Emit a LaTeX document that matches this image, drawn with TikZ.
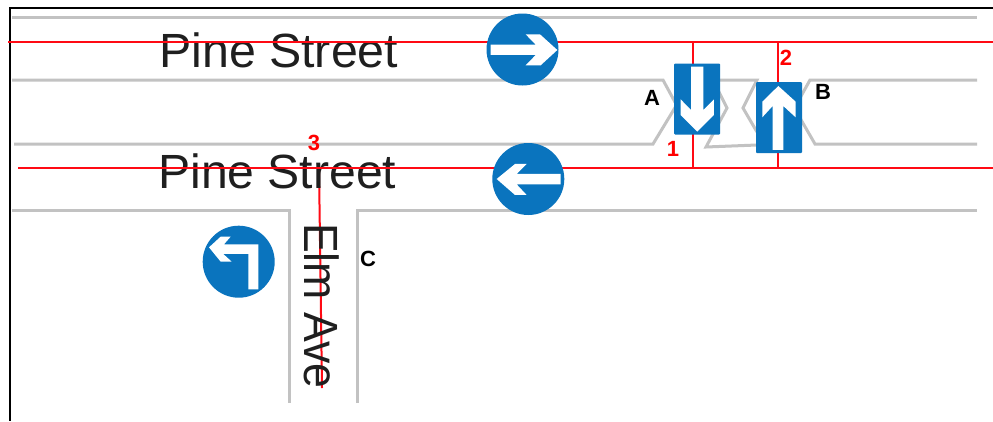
\documentclass[tikz,border=0pt]{standalone}
\usepackage{fontspec}
\usepackage{graphicx}
\setmainfont{Liberation Sans}
\definecolor{roadgrey}{HTML}{C2C2C2}
\definecolor{signblue}{HTML}{0A74BE}
\definecolor{leadred}{HTML}{FF0A14}
\tikzset{
  road/.style={draw=roadgrey,line width=3pt,line join=miter},
  leader/.style={draw=leadred,line width=2pt},
  street/.style={inner sep=0pt,anchor=base west,text=black!88,font=\fontsize{48}{48}\selectfont},
  tag/.style={inner sep=0pt,font=\fontsize{22}{22}\selectfont\bfseries,text=black},
  numtag/.style={tag,text=red},
  roundsign/.style={circle,fill=signblue,inner sep=0pt,minimum size=72pt},
  rectsign/.style={rectangle,rounded corners=1pt,fill=signblue,inner sep=0pt,minimum width=46pt,minimum height=71pt},
  glyph/.style={fill=white,draw=none}
}
\begin{document}
\begin{tikzpicture}[x=1pt,y=-1pt]
\useasboundingbox (0,0) rectangle (993,421);
\fill[white] (0,0) rectangle (993,421);
% frame
\draw[black,line width=2pt] (993,8) -- (10,8) -- (10,421);
% roads
\draw[road] (12,17) -- (977,17);
\draw[road] (12,80) -- (663,80) -- (676,104);
\draw[road] (14,144) -- (653,144) -- (676,106);
\draw[road] (718,80) -- (757,80) -- (743,108) -- (757,132);
\draw[road] (718,90) -- (727,108) -- (706,147) -- (757,145);
\draw[road] (977,80) -- (810,80) -- (800,98);
\draw[road] (977,144) -- (815,144) -- (800,118);
\draw[road] (12,210) -- (289,210) -- (289,403);
\draw[road] (357,403) -- (357,210) -- (977,210);
% anchors of the leaders
\coordinate (topW) at (8,42);
\coordinate (topE) at (993,42);
\coordinate (lowW) at (18,168);
\coordinate (lowE) at (993,168);
\coordinate (aT) at (693,42);
\coordinate (aB) at (693,168);
\coordinate (bT) at (778,42);
\coordinate (bB) at (778,168);
\coordinate (cT) at (319,168);
\coordinate (cB) at (322,388);
\draw[leader] (cT) -- (cB);
% street names
\node[street] (pine1) at (159,67) {\scalebox{1.007}[1]{Pine Street}};
\node[street] (pine2) at (158,188.5) {\scalebox{1.003}[1]{Pine Street}};
\node[street,rotate=-90] (elm) at (304,223) {\scalebox{0.93}[1]{Elm Ave}};
% leaders
\draw[leader] (topW) -- (topE);
\draw[leader] (lowW) -- (lowE);
\draw[leader] (aT) -- (aB);
\draw[leader] (bT) -- (bB);
% round signs
\node[roundsign] (sR) at (522.5,49.5) {};
\fill[glyph,shift={(470,5)},x=0.3333pt,y=-0.3333pt] (62,119) -- (197,119) -- (167,88) -- (210,88) -- (262,135) -- (212,181) -- (167,181) -- (197,150) -- (62,150) -- cycle;
\node[roundsign] (sL) at (528.3,179) {};
\fill[glyph,shift={(470,5)},x=0.3333pt,y=-0.3333pt] (80,522) -- (135,477) -- (170,477) -- (140,507) -- (272,507) -- (272,538) -- (140,538) -- (170,570) -- (135,570) -- cycle;
\node[roundsign] (sT) at (238.7,261.7) {};
\fill[glyph,shift={(190,130)},x=0.3333pt,y=-0.3333pt] (57,352) -- (92,320) -- (122,320) -- (102,343) -- (205,343) -- (205,478) -- (175,478) -- (175,372) -- (100,372) -- (125,395) -- (92,395) -- cycle;
% rectangular signs
\node[rectsign] (sA) at (697,99) {};
\fill[glyph,shift={(620,30)},x=0.3333pt,y=-0.3333pt] (250,110) -- (250,240) -- (282,208) -- (282,255) -- (232,305) -- (182,255) -- (182,208) -- (213,240) -- (213,110) -- cycle;
\node[rectsign] (sB) at (779,117.7) {};
\fill[glyph,shift={(620,30)},x=0.3333pt,y=-0.3333pt] (475,168) -- (527,215) -- (527,262) -- (490,228) -- (490,360) -- (458,360) -- (458,228) -- (427,262) -- (427,215) -- cycle;
% labels
\node[tag] (lA) at (652,98) {A};
\node[tag] (lB) at (823,92) {B};
\node[tag] (lC) at (368,259) {C};
\node[numtag] (n1) at (673,149) {1};
\node[numtag] (n2) at (786,57.5) {2};
\node[numtag] (n3) at (314,142.5) {3};
\end{tikzpicture}
\end{document}
